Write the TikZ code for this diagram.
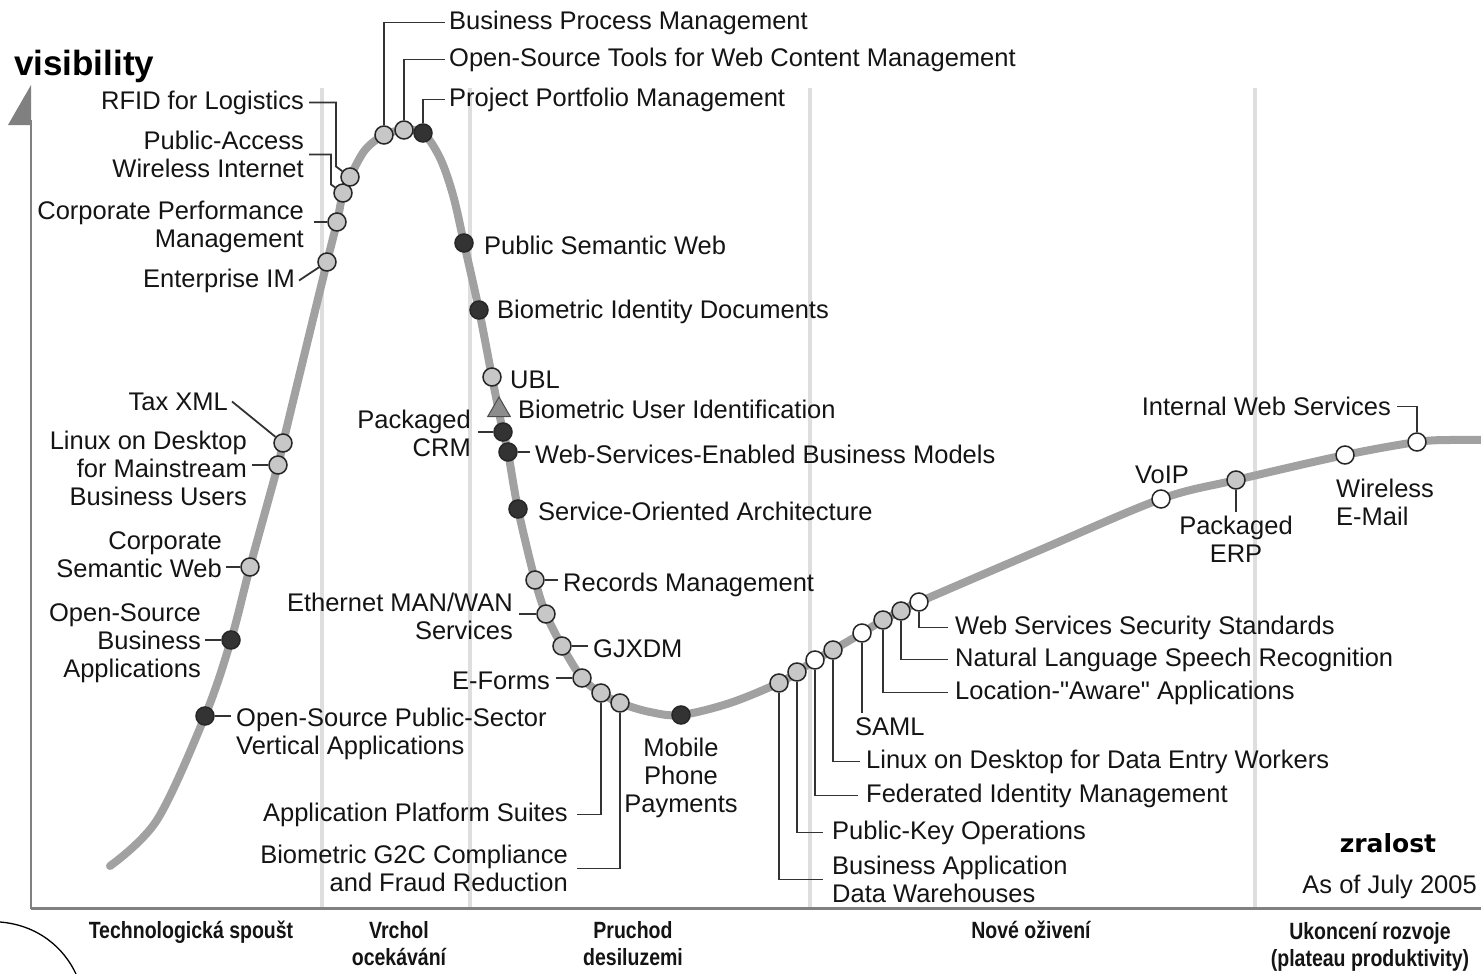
\documentclass[tikz,border=0pt]{standalone}
\usepackage{fontspec}
\setmainfont{Liberation Sans}
\newfontfamily\dvfont{DejaVu Sans}
\usetikzlibrary{shapes.geometric}
\newcommand\lblfont{\fontsize{25.5}{28}\selectfont}
\newcommand\phfont{\fontsize{23.5}{27}\selectfont\bfseries}
\newcommand\condtxt[1]{\scalebox{0.83}[1]{\begin{tabular}{@{}c@{}}#1\end{tabular}}}
\begin{document}
\begin{tikzpicture}[x=1pt,y=-1pt,
  hdot/.style={circle,draw=black!85,line width=1.5pt,minimum size=18pt,inner sep=0pt},
  lt/.style={hdot,fill=black!22},
  wt/.style={hdot,fill=white},
  dk/.style={hdot,fill=black!80},
  tri/.style={regular polygon,regular polygon sides=3,draw=black!70,line width=1pt,fill=black!45,minimum size=26pt,inner sep=0pt},
  lbl/.style={inner sep=0pt,font=\lblfont,text=black!92,yshift=-2.5pt},
  ldr/.style={draw=black!80,line width=1.8pt},
  sepline/.style={draw=black!13,line width=4pt},
  phase/.style={inner sep=0pt,font=\phfont,text=black!92}]
\useasboundingbox (0,0) rectangle (1481,974);
% separators
\foreach \sx in {322,470,810,1255} \draw[sepline] (\sx,88) -- (\sx,907);
% axes
\draw[draw=black!50,line width=2.5pt] (31,120) -- (31,909);
\fill[black!50] (31,85) -- (31,125) -- (8,125) -- cycle;
\draw[draw=black!50,line width=3pt] (31,908) -- (1481,908);
% curve
\draw[draw=black!37,line width=8pt,line cap=round] plot[smooth,tension=0.55] coordinates {(110,866) (157,820) (205,716) (231,640) (250,567) (278,465) (283,443) (305,352) (327,262) (337,222) (343,193) (350,177) (365,150) (384,135) (404,130) (423,133) (440,158) (453,195) (464,243) (479,310) (492,377) (498,407) (503,432) (508,452) (518,509) (535,580) (546,614) (562,646) (582,678) (601,693) (620,703) (650,712) (681,715) (730,703) (779,683) (797,672) (815,660) (833,650) (862,633) (883,620) (901,611) (919,602) (1040,550) (1161,499) (1236,480) (1345,455) (1417,442) (1450,440) (1481,440)};
% dots
\node[dk] (d1) at (205,716) {};
\node[dk] (d2) at (231,640) {};
\node[lt] (d3) at (250,567) {};
\node[lt] (d4) at (278,465) {};
\node[lt] (d5) at (283,443) {};
\node[lt] (d6) at (327,262) {};
\node[lt] (d7) at (337,222) {};
\node[lt] (d8) at (343,193) {};
\node[lt] (d9) at (350,177) {};
\node[lt] (d10) at (384,135) {};
\node[lt] (d11) at (404,130) {};
\node[dk] (d12) at (423,133) {};
\node[dk] (d13) at (464,243) {};
\node[dk] (d14) at (479,310) {};
\node[lt] (d15) at (492,377) {};
\node[tri] (d16) at (499,410) {};
\node[dk] (d17) at (503,432) {};
\node[dk] (d18) at (508,452) {};
\node[dk] (d19) at (518,509) {};
\node[lt] (d20) at (535,580) {};
\node[lt] (d21) at (546,614) {};
\node[lt] (d22) at (562,646) {};
\node[lt] (d23) at (582,678) {};
\node[lt] (d24) at (601,693) {};
\node[lt] (d25) at (620,703) {};
\node[dk] (d26) at (681,715) {};
\node[lt] (d27) at (779,683) {};
\node[lt] (d28) at (797,672) {};
\node[wt] (d29) at (815,660) {};
\node[lt] (d30) at (833,650) {};
\node[wt] (d31) at (862,633) {};
\node[lt] (d32) at (883,620) {};
\node[lt] (d33) at (901,611) {};
\node[wt] (d34) at (919,602) {};
\node[wt] (d35) at (1161,499) {};
\node[lt] (d36) at (1236,480) {};
\node[wt] (d37) at (1345,455) {};
\node[wt] (d38) at (1417,442) {};
% labels
\node[lbl,anchor=west,align=left] (l1) at (236,731) {Open-Source Public-Sector\\Vertical Applications};
\node[lbl,anchor=east,align=right] (l2) at (201,641) {Open-Source\\Business\\Applications};
\node[lbl,anchor=east,align=right] (l3) at (222,552) {Corporate\\Semantic Web};
\node[lbl,anchor=east,align=right] (l4) at (247,466) {Linux on Desktop\\for Mainstream\\Business Users};
\node[lbl,anchor=east] (l5) at (228,399) {Tax XML};
\node[lbl,anchor=east] (l6) at (295,278) {Enterprise IM};
\node[lbl,anchor=east,align=right] (l7) at (304,224) {Corporate Performance\\Management};
\node[lbl,anchor=east,align=right] (l8) at (304,152) {Public-Access\\Wireless Internet};
\node[lbl,anchor=east] (l9) at (304,100) {RFID for Logistics};
\node[lbl,anchor=west] (l10) at (449,20) {Business Process Management};
\node[lbl,anchor=west] (l11) at (449,57) {Open-Source Tools for Web Content Management};
\node[lbl,anchor=west] (l12) at (449,97) {Project Portfolio Management};
\node[lbl,anchor=west] (l13) at (484,243) {Public Semantic Web};
\node[lbl,anchor=west] (l14) at (497,309) {Biometric Identity Documents};
\node[lbl,anchor=west] (l15) at (510,377) {UBL};
\node[lbl,anchor=west] (l16) at (518,407) {Biometric User Identification};
\node[lbl,anchor=east,align=right] (l17) at (471,431) {Packaged\\CRM};
\node[lbl,anchor=west] (l18) at (535,452) {Web-Services-Enabled Business Models};
\node[lbl,anchor=west] (l19) at (538,509) {Service-Oriented Architecture};
\node[lbl,anchor=west] (l20) at (563,582) {Records Management};
\node[lbl,anchor=east,align=right] (l21) at (513,614) {Ethernet MAN/WAN\\Services};
\node[lbl,anchor=west] (l22) at (593,646) {GJXDM};
\node[lbl,anchor=east] (l23) at (550,678) {E-Forms};
\node[lbl,anchor=east] (l24) at (568,812) {Application Platform Suites};
\node[lbl,anchor=east,align=right] (l25) at (568,866) {Biometric G2C Compliance\\and Fraud Reduction};
\node[lbl,align=center] (l26) at (681,775) {Mobile\\Phone\\Payments};
\node[lbl,anchor=west,align=left] (l27) at (832,877) {Business Application\\Data Warehouses};
\node[lbl,anchor=west] (l28) at (832,830) {Public-Key Operations};
\node[lbl,anchor=west] (l29) at (866,793) {Federated Identity Management};
\node[lbl,anchor=west] (l30) at (866,759) {Linux on Desktop for Data Entry Workers};
\node[lbl,anchor=west] (l31) at (855,724) {SAML};
\node[lbl,anchor=west] (l32) at (955,690) {Location-\textquotedbl Aware\textquotedbl{} Applications};
\node[lbl,anchor=west] (l33) at (955,657) {Natural Language Speech Recognition};
\node[lbl,anchor=west] (l34) at (955,625) {Web Services Security Standards};
\node[lbl] (l35) at (1162,472) {VoIP};
\node[lbl,align=center] (l36) at (1236,537) {Packaged\\ERP};
\node[lbl,anchor=west,align=left] (l37) at (1336,500) {Wireless\\E-Mail};
\node[lbl,anchor=east] (l38) at (1391,404) {Internal Web Services};
% leaders
\draw[ldr,shorten >=5pt] (d1.east) -- (d1 -| l1.west);
\draw[ldr,shorten >=4pt] (d2.west) -- (d2 -| l2.east);
\draw[ldr,shorten >=4pt] (d3.west) -- (d3 -| l3.east);
\draw[ldr,shorten >=5pt] (d4.west) -- (d4 -| l4.east);
\draw[ldr] ([xshift=4pt]l5.east) -- (d5);
\draw[ldr] ([xshift=4pt]l6.east) -- (d6);
\draw[ldr,shorten >=10pt] (d7.west) -- (d7 -| l7.east);
\draw[ldr] ([xshift=5pt]l8.east) -- ++(22,0) -- ++(0,30) -- (d8);
\draw[ldr] ([xshift=5pt]l9.east) -- ++(27,0) -- ++(0,64) -- (d9);
\draw[ldr] (d10.north) |- ([xshift=-4pt]l10.west);
\draw[ldr] (d11.north) |- ([xshift=-4pt]l11.west);
\draw[ldr] (d12.north) |- ([xshift=-4pt]l12.west);
\draw[ldr,shorten >=7pt] (d17.west) -- (d17 -| l17.east);
\draw[ldr,shorten >=5pt] (d18.east) -- (d18 -| l18.west);
\draw[ldr,shorten >=5pt] (d20.east) -- (d20 -| l20.west);
\draw[ldr,shorten >=6pt] (d21.west) -- (d21 -| l21.east);
\draw[ldr,shorten >=5pt] (d22.east) -- (d22 -| l22.west);
\draw[ldr,shorten >=6pt] (d23.west) -- (d23 -| l23.east);
\draw[ldr] (d24.south) |- ([xshift=9pt]l24.east);
\draw[ldr] (d25.south) |- ([xshift=9pt]l25.east);
\draw[ldr] (d27.south) |- ([xshift=-9pt]l27.west);
\draw[ldr] (d28.south) |- ([xshift=-9pt]l28.west);
\draw[ldr] (d29.south) |- ([xshift=-8pt]l29.west);
\draw[ldr] (d30.south) |- ([xshift=-6pt]l30.west);
\draw[ldr,shorten >=4pt] (d31.south) -- (d31 |- l31.north);
\draw[ldr] (d32.south) |- ([xshift=-7pt]l32.west);
\draw[ldr] (d33.south) |- ([xshift=-7pt]l33.west);
\draw[ldr] (d34.south) |- ([xshift=-7pt]l34.west);
\draw[ldr,shorten >=4pt] (d36.south) -- (d36 |- l36.north);
\draw[ldr] (d38.north) |- ([xshift=6pt]l38.east);
% axis titles and notes
\node[inner sep=0pt,anchor=base west,font=\fontsize{35}{38}\selectfont\bfseries] (vis) at (14,75) {visibility};
\node[inner sep=0pt,font=\dvfont\fontsize{25}{28}\selectfont\bfseries] (zr) at (1388,843) {zralost};
\node[lbl,anchor=east] (asof) at (1477,884) {As of July 2005};
% phases
\node[phase] (p1) at (191,933) {\condtxt{Technologická spoušt}};
\node[phase] (p2) at (399,947) {\condtxt{Vrchol\\ocekávání}};
\node[phase] (p3) at (633,947) {\condtxt{Pruchod\\desiluzemi}};
\node[phase] (p4) at (1031,933) {\condtxt{Nové oživení}};
\node[phase] (p5) at (1370,948) {\condtxt{Ukoncení rozvoje\\(plateau produktivity)}};
% corner arc
\draw[line width=1.3pt] (0,922) .. controls (38,925) and (64,948) .. (76,974);
\end{tikzpicture}
\end{document}
